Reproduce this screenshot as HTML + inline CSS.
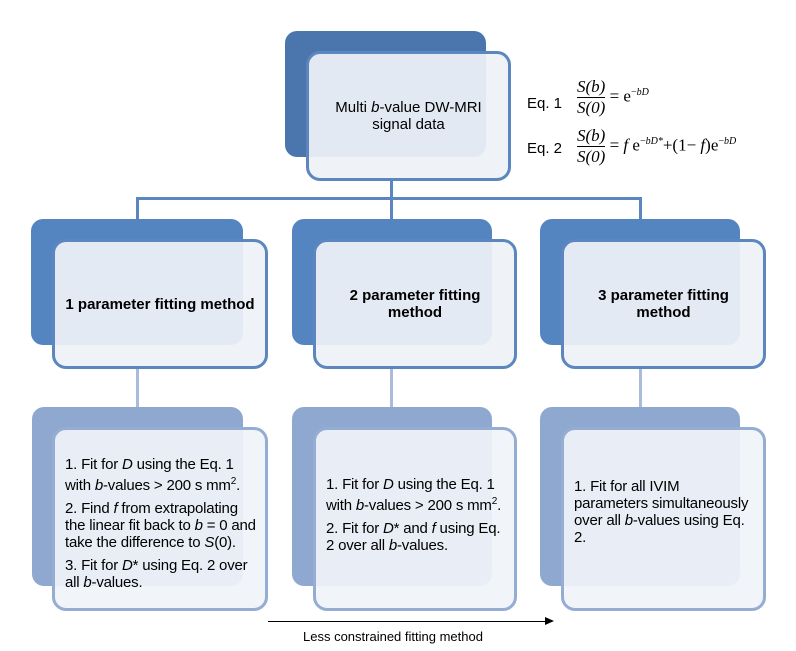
<!DOCTYPE html>
<html><head><meta charset="utf-8"><style>
body{margin:0;width:796px;height:651px;background:#fff;position:relative;overflow:hidden;font-family:"Liberation Sans",sans-serif;color:#000}
.a{position:absolute;box-sizing:border-box}
.bk{border-radius:12px}
.fr{border-radius:14px;border:3px solid #5b86bf;background:rgba(238,242,248,0.93);display:flex;align-items:center;justify-content:center;text-align:center}
.fr3{border-color:#95acd3;background:rgba(240,243,249,0.93);justify-content:flex-start;text-align:left;padding:0 6px 0 10px}
.ln{position:absolute;background:#5b86bf}
.t{font-size:15px;line-height:17px}
.b{font-weight:bold}
.l3 p{margin:0 0 6px 0;font-size:15px;line-height:17px;letter-spacing:-0.2px}
.eq{position:absolute;font-family:"Liberation Serif",serif;font-size:17px}
.fracw{display:inline-block;vertical-align:middle;text-align:center}
.fracw span{display:block;font-style:italic;line-height:20px}
.fracw span.top{border-bottom:1px solid #000}
sup{font-size:10px}
</style></head><body>
<div class="ln" style="left:390px;top:178px;width:3px;height:22px"></div>
<div class="ln" style="left:136px;top:197px;width:506px;height:3px"></div>
<div class="ln" style="left:136px;top:197px;width:3px;height:23px"></div>
<div class="ln" style="left:390px;top:197px;width:3px;height:23px"></div>
<div class="ln" style="left:639px;top:197px;width:3px;height:23px"></div>
<div class="ln" style="left:136px;top:366px;width:3px;height:42px;background:#a9bcd9"></div>
<div class="ln" style="left:390px;top:366px;width:3px;height:42px;background:#a9bcd9"></div>
<div class="ln" style="left:639px;top:366px;width:3px;height:42px;background:#a9bcd9"></div>

<div class="a bk" style="left:285px;top:31px;width:201px;height:126px;background:#4a76ad"></div>
<div class="a fr t" style="left:306px;top:51px;width:205px;height:130px"><div>Multi <i>b</i>-value DW-MRI<br>signal data</div></div>

<div class="a t" style="left:527px;top:95px">Eq. 1</div>
<div class="a t" style="left:527px;top:140px">Eq. 2</div>
<div class="eq" style="left:577px;top:77px"><span class="fracw"><span class="top">S(b)</span><span>S(0)</span></span> = e<sup>−<i>bD</i></sup></div>
<div class="eq" style="left:577px;top:126px"><span class="fracw"><span class="top">S(b)</span><span>S(0)</span></span> = <i>f</i> e<sup>−<i>bD*</i></sup>+(1− <i>f</i>)e<sup>−<i>bD</i></sup></div>

<div class="a bk" style="left:31px;top:219px;width:212px;height:126px;background:#5585c0"></div>
<div class="a fr t b" style="left:52px;top:239px;width:216px;height:130px">1 parameter fitting method</div>
<div class="a bk" style="left:292px;top:219px;width:200px;height:126px;background:#5585c0"></div>
<div class="a fr t b" style="left:313px;top:239px;width:204px;height:130px">2 parameter fitting<br>method</div>
<div class="a bk" style="left:540px;top:219px;width:200px;height:126px;background:#5585c0"></div>
<div class="a fr t b" style="left:561px;top:239px;width:205px;height:130px">3 parameter fitting<br>method</div>

<div class="a bk" style="left:32px;top:407px;width:211px;height:179px;background:#8ea8d0"></div>
<div class="a fr fr3 l3" style="left:52px;top:427px;width:216px;height:184px"><div style="margin-top:8px">
<p>1. Fit for <i>D</i> using the Eq. 1 with <i>b</i>-values &gt; 200 s mm<sup>2</sup>.</p>
<p>2. Find <i>f</i> from extrapolating the linear fit back to <i>b</i> = 0 and take the difference to <i>S</i>(0).</p>
<p style="margin:0">3. Fit for <i>D</i>* using Eq. 2 over all <i>b</i>-values.</p></div></div>
<div class="a bk" style="left:292px;top:407px;width:200px;height:179px;background:#8ea8d0"></div>
<div class="a fr fr3 l3" style="left:313px;top:427px;width:204px;height:184px"><div style="margin-top:-8px">
<p>1. Fit for <i>D</i> using the Eq. 1 with <i>b</i>-values &gt; 200 s mm<sup>2</sup>.</p>
<p style="margin:0">2. Fit for <i>D</i>* and <i>f</i> using Eq. 2 over all <i>b</i>-values.</p></div></div>
<div class="a bk" style="left:540px;top:407px;width:200px;height:179px;background:#8ea8d0"></div>
<div class="a fr fr3 l3" style="left:561px;top:427px;width:205px;height:184px"><div style="margin-top:-14px">
<p style="margin:0">1. Fit for all IVIM parameters simultaneously over all <i>b</i>-values using Eq. 2.</p></div></div>

<div class="a" style="left:268px;top:621px;width:279px;height:1px;background:#000"></div>
<div class="a" style="left:545px;top:617px;width:0;height:0;border-left:9px solid #000;border-top:4px solid transparent;border-bottom:4px solid transparent"></div>
<div class="a" style="left:303px;top:629px;font-size:13px">Less constrained fitting method</div>
</body></html>
